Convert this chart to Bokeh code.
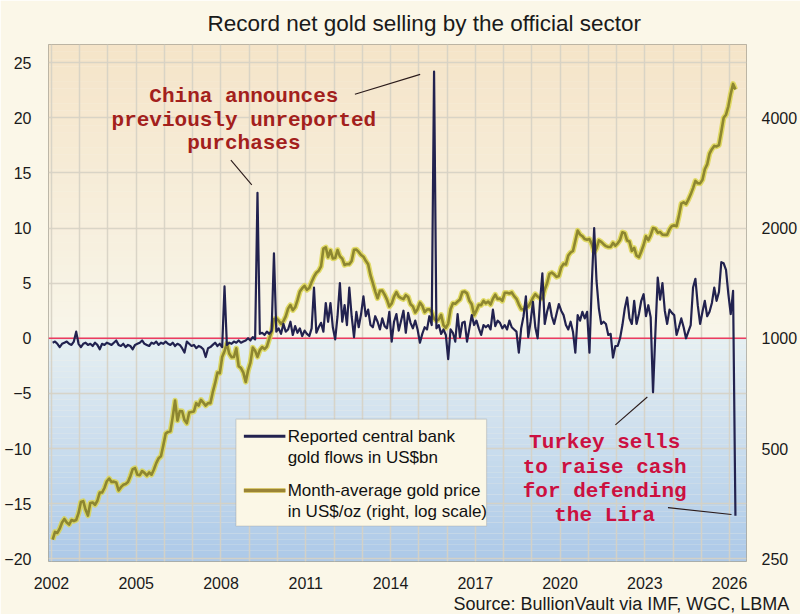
import numpy as np
import pandas as pd
from bokeh.plotting import figure
from bokeh.models import (Range1d, LinearAxis, LogScale, FixedTicker, Span,
                          BoxAnnotation, Label, Title,
                          ColumnDataSource, BasicTickFormatter)
from bokeh.embed import file_html
from bokeh.resources import INLINE

# ---------------- data (monthly, Jan 2002 - Mar 2026) ----------------
first_month = "2002-01-01"

# Reported central bank gold flows, US$bn
flows_bn = [
    -0.4, -0.3, -0.5, -0.8, -0.5, -0.4, -0.3, -0.5, -0.6, -0.3, 0.6, -0.5,    # 2002
    -0.8, -0.5, -0.4, -0.6, -0.5, -0.7, -0.4, -0.6, -1.0, -0.5, -0.6, -0.4,   # 2003
    -0.5, -0.6, -0.4, -0.2, -0.6, -0.7, -0.5, -0.8, -0.6, -0.7, -1.0, -0.6,   # 2004
    -0.5, -0.4, -0.2, -0.5, -0.6, -0.7, -0.4, -0.5, -0.3, -0.6, -0.4, -0.5,   # 2005
    -0.3, -0.5, -0.6, -0.4, -0.7, -0.5, -0.6, -0.9, -1.3, -0.3, -0.5, -0.7,   # 2006
    -0.6, -0.9, -0.7, -0.8, -1.0, -1.7, -0.9, -0.8, -0.6, -0.4, -0.7, -0.5,   # 2007
    -0.8, 4.7, -0.6, -0.4, -0.5, -0.3, -0.4, -0.2, -0.4, -0.3, -0.2, 0.0,     # 2008
    -0.2, 0.1, -0.1, 13.2, 0.4, 0.5, 0.3, 0.6, 0.4, 0.7, 7.7, 0.6,            # 2009
    0.9, 0.4, 1.3, 0.6, 0.8, 1.5, 0.3, 1.1, 0.5, 0.9, 0.2, 0.7,               # 2010
    0.4, 0.2, 0.9, 4.6, 0.5, 1.0, 1.4, 0.6, 3.2, 1.5, 3.2, 1.0,               # 2011
    -0.1, 2.0, 5.0, 1.5, 3.0, 1.2, 4.6, 2.0, 0.1, 2.4, 1.0, 2.2,              # 2012
    3.8, 2.0, 2.6, 1.2, 1.0, 2.0, 1.5, 0.8, 1.8, 1.1, 0.9, 2.4,               # 2013
    -0.3, 1.5, 2.2, 0.7, 1.6, 2.5, 0.5, 2.3, 1.4, 0.9, 1.6, 0.8,              # 2014
    -0.4, 0.4, 1.0, 0.8, 2.0, 1.2, 24.2, 0.9, 1.2, 0.4, 0.8, 0.3,             # 2015
    -1.9, 0.8, 0.5, -0.3, 2.2, 0.1, 1.4, 1.5, -0.3, 0.9, 2.1, 1.2,            # 2016
    1.6, 0.9, 0.3, 1.2, 1.0, 1.2, 0.8, 2.6, 1.1, 1.6, 1.4, 0.9,               # 2017
    1.2, 0.8, 1.6, 1.0, 0.8, 0.6, -1.3, 0.9, 2.0, 3.8, 0.1, 1.5,              # 2018
    3.3, 1.0, 0.0, 3.3, 5.9, 1.3, 2.4, 3.2, 2.0, 1.3, 2.2, 3.1,               # 2019
    2.5, 2.1, 1.2, 0.8, 1.5, 0.6, -1.3, 2.1, 1.6, 2.4, 1.8, 2.4,              # 2020
    -1.3, 5.0, 10.0, 5.2, 2.7, 1.3, 1.5, 1.3, 0.3, 0.4, -1.75, -0.7,          # 2021
    -0.7, 0.0, 1.2, 2.7, 3.7, 1.8, 1.3, 3.4, 1.3, 2.2, 3.4, 4.0,              # 2022
    2.0, 3.0, 1.9, -4.9, 0.5, 5.5, 3.5, 5.0, 2.5, 1.3, 2.6, 2.3,              # 2023
    2.1, 0.3, 1.0, 1.8, 1.0, 0.0, 0.6, 1.2, 4.6, 5.4, 3.0, 1.3,               # 2024
    2.4, 3.4, 2.0, 2.4, 3.2, 4.6, 3.4, 4.2, 6.9, 6.8, 6.2, 4.0,               # 2025
    2.2, 4.3, -16.1,                                                          # 2026
]

# Month-average gold price, US$/oz
gold_usd = [
    282, 296, 294, 302, 314, 321, 314, 310, 319, 317, 319, 333,
    357, 359, 340, 328, 355, 356, 351, 360, 379, 379, 390, 407,
    414, 405, 406, 404, 384, 392, 398, 400, 405, 420, 439, 442,
    424, 423, 434, 429, 422, 430, 424, 438, 456, 470, 476, 510,
    549, 555, 557, 610, 676, 596, 633, 632, 598, 586, 627, 629,
    631, 665, 655, 679, 667, 655, 665, 665, 712, 754, 806, 803,
    889, 922, 968, 909, 888, 889, 939, 839, 829, 806, 760, 816,
    858, 943, 924, 890, 928, 946, 934, 949, 996, 1043, 1127, 1134,
    1117, 1095, 1113, 1148, 1205, 1232, 1193, 1215, 1271, 1342, 1370, 1391,
    1356, 1372, 1424, 1473, 1510, 1529, 1572, 1756, 1772, 1665, 1739, 1652,
    1656, 1742, 1674, 1650, 1585, 1596, 1594, 1626, 1744, 1747, 1721, 1688,
    1670, 1627, 1593, 1487, 1414, 1343, 1286, 1347, 1349, 1316, 1275, 1221,
    1244, 1300, 1336, 1299, 1287, 1279, 1311, 1296, 1239, 1222, 1176, 1201,
    1251, 1227, 1179, 1198, 1199, 1181, 1131, 1117, 1125, 1159, 1086, 1068,
    1097, 1200, 1246, 1242, 1260, 1276, 1337, 1341, 1326, 1266, 1238, 1157,
    1192, 1234, 1231, 1266, 1246, 1260, 1236, 1283, 1315, 1280, 1283, 1265,
    1331, 1331, 1325, 1335, 1303, 1282, 1238, 1202, 1199, 1215, 1221, 1250,
    1291, 1320, 1300, 1286, 1284, 1359, 1413, 1500, 1511, 1495, 1471, 1480,
    1560, 1597, 1591, 1683, 1715, 1732, 1846, 1968, 1921, 1900, 1866, 1858,
    1867, 1808, 1718, 1760, 1850, 1834, 1807, 1785, 1775, 1777, 1821, 1790,
    1817, 1856, 1948, 1937, 1849, 1837, 1733, 1765, 1681, 1665, 1726, 1798,
    1898, 1854, 1912, 2000, 1991, 1943, 1951, 1918, 1916, 1916, 1985, 2027,
    2034, 2024, 2159, 2331, 2351, 2326, 2391, 2472, 2571, 2690, 2651, 2648,
    2709, 2895, 2984, 3193, 3283, 3352, 3340, 3370, 3665, 4000, 4080, 4300,
    4650, 4950, 4780,
]

x_tick_years = [2002, 2005, 2008, 2011, 2014, 2017, 2020, 2023, 2026]
grid_years = list(range(2002, 2027))
left_ticks = [-20, -15, -10, -5, 0, 5, 10, 15, 20, 25]
right_ticks = [250, 500, 1000, 2000, 4000]

title_text = "Record net gold selling by the official sector"
source_text = "Source: BullionVault via IMF, WGC, LBMA"
legend_flows = ["Reported central bank", "gold flows in US$bn"]
legend_gold = ["Month-average gold price", "in US$/oz (right, log scale)"]
china_note = "China announces\npreviously unreported\npurchases"
turkey_note = "Turkey sells\nto raise cash\nfor defending\nthe Lira"

# ---------------- derived ----------------
dates = pd.date_range(first_month, periods=len(flows_bn), freq="MS")
xdec = np.asarray(dates.year + (dates.month - 0.5) / 12.0, dtype=float)
src = ColumnDataSource(dict(x=xdec, flows=flows_bn, gold=gold_usd))

Y0, Y1 = -20.25, 26.65
X0, X1 = 2001.895, 2026.6
P_REF = 1000.0  # price aligned with 0 on the left axis; doubles every 10 units

p = figure(width=800, height=614, x_range=Range1d(X0, X1), y_range=Range1d(Y0, Y1),
           output_backend="svg", toolbar_location=None,
           min_border_left=48, min_border_right=48, min_border_top=44, min_border_bottom=52,
           border_fill_color="#fbf7e8", background_fill_color="#f6f2e4",
           outline_line_color="#a9a597", outline_line_width=1)

p.title.text = title_text
p.title.align = "left"
p.title.offset = 159
p.title.text_font = "Liberation Sans"
p.title.text_font_size = "22.5px"
p.title.text_font_style = "normal"
p.title.text_color = "#1a1a1a"
p.title.standoff = 17

p.extra_y_ranges = {"price": Range1d(P_REF * 2 ** (Y0 / 10), P_REF * 2 ** (Y1 / 10))}
p.extra_y_scales = {"price": LogScale()}

# background gradient bands
def lerp(c0, c1, t):
    return "#%02x%02x%02x" % tuple(int(round(a + (b - a) * t)) for a, b in zip(c0, c1))

top_c, mid_hi, mid_lo, bot_c = (245, 228, 200), (248, 246, 234), (230, 239, 242), (172, 201, 232)
n_hi, n_lo = 40, 40
edges_hi = np.linspace(0, Y1, n_hi + 1)
for i in range(n_hi):
    t = (i + 0.5) / n_hi
    p.add_layout(BoxAnnotation(bottom=edges_hi[i], top=edges_hi[i + 1], fill_color=lerp(mid_hi, top_c, t),
                               fill_alpha=1, line_alpha=0, level="image"))
edges_lo = np.linspace(Y0, 0, n_lo + 1)
for i in range(n_lo):
    t = (i + 0.5) / n_lo
    p.add_layout(BoxAnnotation(bottom=edges_lo[i], top=edges_lo[i + 1], fill_color=lerp(bot_c, mid_lo, t),
                               fill_alpha=1, line_alpha=0, level="image"))

# grids
p.xgrid.ticker = FixedTicker(ticks=grid_years)
p.ygrid.ticker = FixedTicker(ticks=left_ticks)
for g in (p.xgrid, p.ygrid):
    g.grid_line_color = "#d6d2c4"
    g.grid_line_width = 1.5
    g.grid_line_alpha = 0.9

# axes
p.xaxis.ticker = FixedTicker(ticks=x_tick_years)
p.yaxis.ticker = FixedTicker(ticks=left_ticks)
for ax in (p.xaxis, p.yaxis):
    ax.axis_line_color = None
    ax.major_tick_line_color = None
    ax.minor_tick_line_color = None
    ax.major_label_text_font = "Liberation Sans"
    ax.major_label_text_font_size = "16px"
    ax.major_label_text_color = "#1a1a1a"
p.xaxis.major_label_standoff = 9
p.yaxis.major_label_standoff = 11

raxis = LinearAxis(y_range_name="price", ticker=FixedTicker(ticks=right_ticks),
                   formatter=BasicTickFormatter(use_scientific=False))
raxis.axis_line_color = None
raxis.major_tick_line_color = None
raxis.minor_tick_line_color = None
raxis.major_label_text_font = "Liberation Sans"
raxis.major_label_text_font_size = "16px"
raxis.major_label_text_color = "#1a1a1a"
raxis.major_label_standoff = 9
p.add_layout(raxis, "right")

# source line under the x axis
src_title = Title(text=source_text, align="left", offset=405, text_font="Liberation Sans",
                  text_font_size="18px", text_font_style="normal", text_color="#1a1a1a", standoff=1)
p.add_layout(src_title, "below")

# zero line
p.add_layout(Span(location=0, dimension="width", line_color="#ec3c60", line_width=1.5, level="underlay"))

# series
gold_halo = p.line("x", "gold", source=src, y_range_name="price", line_color="#dcd548",
                   line_width=5.5, line_alpha=0.8, line_join="round")
gold_line = p.line("x", "gold", source=src, y_range_name="price", line_color="#8d8630",
                   line_width=2.6, line_join="round")
flow_line = p.line("x", "flows", source=src, line_color="#22224f", line_width=2.2, line_join="round")

# ---------------- legend (drawn by hand; positions in data units) ----------------
lg_left, lg_right, lg_top, lg_bottom = 2008.53, 2017.4, -7.34, -17.03
p.add_layout(BoxAnnotation(left=lg_left, right=lg_right, top=lg_top, bottom=lg_bottom,
                           fill_color="#fbf7e6", fill_alpha=1, line_color="#8f8f8f", line_width=1.2,
                           level="annotation"))
sw_x0, sw_x1, txt_x = 2008.81, 2010.28, 2010.36
row_y = [(-8.88, -10.78), (-13.82, -15.72)]
p.segment(x0=[sw_x0], y0=[row_y[0][0]], x1=[sw_x1], y1=[row_y[0][0]], line_color="#22224f",
          line_width=3, level="overlay")
p.segment(x0=[sw_x0], y0=[row_y[1][0]], x1=[sw_x1], y1=[row_y[1][0]], line_color="#d8c870",
          line_width=5, level="overlay")
p.segment(x0=[sw_x0], y0=[row_y[1][0]], x1=[sw_x1], y1=[row_y[1][0]], line_color="#9a8436",
          line_width=3, level="overlay")
for lines, ys in zip((legend_flows, legend_gold), row_y):
    for t, yy in zip(lines, ys):
        p.add_layout(Label(x=txt_x, y=yy, text=t, text_align="left", text_baseline="middle",
                           text_font="Liberation Sans", text_font_size="17px", text_color="#111111",
                           level="overlay"))

# ---------------- annotations (positions in data units) ----------------
china_color = "#a3201c"
turkey_color = "#cc1040"
p.add_layout(Label(x=2008.81, y=19.78, text=china_note, text_align="center", text_baseline="middle",
                   text_font="Liberation Mono", text_font_style="bold", text_font_size="21px",
                   text_color=china_color, text_line_height=1.03))
p.add_layout(Label(x=2021.58, y=-12.78, text=turkey_note, text_align="center", text_baseline="middle",
                   text_font="Liberation Mono", text_font_style="bold", text_font_size="21px",
                   text_color=turkey_color, text_line_height=1.05))
p.segment(x0=[2008.35, 2012.74, 2021.96, 2023.82], y0=[16.17, 22.13, -7.86, -15.36],
          x1=[2009.09, 2015.05, 2023.09, 2026.07], y1=[13.91, 23.94, -5.33, -15.99],
          line_color="#2a1a1a", line_width=1.1)

open("out.html", "w").write(file_html(p, INLINE))
